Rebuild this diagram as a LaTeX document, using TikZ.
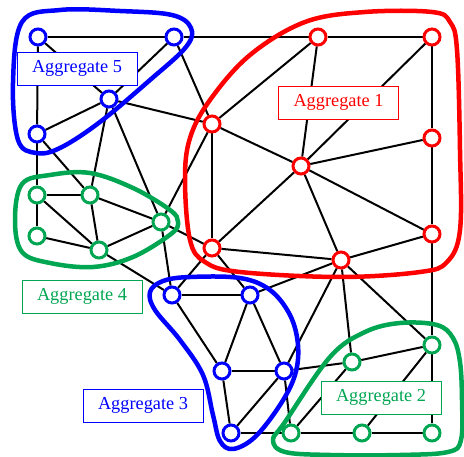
\documentclass[tikz,border=0pt]{standalone}
\usepackage{fontspec}
\setmainfont{Liberation Serif}
\definecolor{aggblue}{RGB}{0,0,255}
\definecolor{aggred}{RGB}{255,0,0}
\definecolor{agggreen}{RGB}{0,166,81}
\pgfdeclarelayer{edgelayer}
\pgfdeclarelayer{hulllayer}
\pgfsetlayers{edgelayer,hulllayer,main}
\tikzset{
  vtx/.style={circle,draw=#1,fill=white,line width=3pt,minimum size=16pt,inner sep=0pt},
  link/.style={draw=black,line width=2pt},
  hull/.style={draw=#1,line width=4.5pt,line join=round},
  agglabel/.style={draw=#1,text=#1,fill=white,line width=0.9pt,minimum width=120pt,minimum height=33pt,inner sep=0pt,font=\fontsize{18.3}{20}\selectfont}
}
\begin{document}
\begin{tikzpicture}[x=1pt,y=-1pt]
\useasboundingbox (0,0) rectangle (464,457);
% Aggregate 5
\node[vtx=aggblue] (a5a) at (38,37) {};
\node[vtx=aggblue] (a5b) at (174,37) {};
\node[vtx=aggblue] (a5c) at (109,99) {};
\node[vtx=aggblue] (a5d) at (37,134) {};
% Aggregate 1
\node[vtx=aggred] (r1) at (318,37) {};
\node[vtx=aggred] (r2) at (432,37) {};
\node[vtx=aggred] (r3) at (212,124) {};
\node[vtx=aggred] (r4) at (301,166) {};
\node[vtx=aggred] (r5) at (432,138) {};
\node[vtx=aggred] (r6) at (212,248) {};
\node[vtx=aggred] (r7) at (341,260) {};
\node[vtx=aggred] (r8) at (432,234) {};
% Aggregate 4
\node[vtx=agggreen] (g4a) at (37,195) {};
\node[vtx=agggreen] (g4b) at (90,195) {};
\node[vtx=agggreen] (g4c) at (161,222) {};
\node[vtx=agggreen] (g4d) at (37,236) {};
\node[vtx=agggreen] (g4e) at (99,250) {};
% Aggregate 3
\node[vtx=aggblue] (b3a) at (172,295) {};
\node[vtx=aggblue] (b3b) at (250,295) {};
\node[vtx=aggblue] (b3c) at (222,371) {};
\node[vtx=aggblue] (b3d) at (284,371) {};
\node[vtx=aggblue] (b3e) at (231,433) {};
% Aggregate 2
\node[vtx=agggreen] (g2a) at (432,345) {};
\node[vtx=agggreen] (g2b) at (352,362) {};
\node[vtx=agggreen] (g2c) at (291,433) {};
\node[vtx=agggreen] (g2d) at (362,433) {};
\node[vtx=agggreen] (g2e) at (432,433) {};

\begin{pgfonlayer}{edgelayer}
\foreach \p/\q in {a5a/a5b,a5b/r1,r1/r2,r2/r5,r5/r8,r8/g2a,g2a/g2e,g2e/g2d,g2d/g2c,g2c/b3e,
  a5a/a5d,a5d/g4a,g4a/g4d,
  a5a/a5c,a5b/a5c,a5c/a5d,a5b/r3,a5c/r3,a5c/g4b,a5c/g4c,a5d/g4b,
  g4a/g4b,g4a/g4e,g4b/g4c,g4b/g4e,g4d/g4e,g4e/g4c,g4c/r3,g4c/r6,g4c/b3a,g4e/b3a,
  r3/r1,r3/r4,r3/r6,r4/r1,r4/r2,r4/r5,r4/r6,r4/r7,r4/r8,r6/r7,r7/r8,
  r6/b3a,r6/b3b,b3a/b3b,b3b/r7,r7/b3d,r7/g2b,r7/g2a,
  b3a/b3c,b3b/b3c,b3b/b3d,b3c/b3d,b3c/b3e,b3d/b3e,b3d/g2c,b3d/g2b,
  g2b/g2a,g2a/g2d,g2b/g2c}
  \draw[link] (\p) -- (\q);
\end{pgfonlayer}

\begin{pgfonlayer}{hulllayer}
% Aggregate 5 hull
\draw[hull=aggblue] plot[smooth cycle,tension=0.6] coordinates {
  (22,22) (60,10) (120,11) (172,15) (191,28) (186,47) (150,80) (100,122) (60,148) (36,153) (18,140) (13,83)};
% Aggregate 1 hull
\draw[hull=aggred] plot[smooth cycle,tension=0.6] coordinates {
  (250,55) (305,22) (365,12) (432,12) (450,22) (457,50) (460,150) (460,230) (447,262) (420,272) (340,277) (240,272) (205,262) (190,240) (185,180) (190,138) (210,100)};
% Aggregate 4 hull
\draw[hull=agggreen] plot[smooth cycle,tension=0.6] coordinates {
  (22,184) (50,175) (90,173) (133,188) (170,210) (178,222) (171,234) (133,257) (93,267) (50,263) (22,252) (15,220)};
% Aggregate 3 hull
\draw[hull=aggblue] plot[smooth cycle,tension=0.6] coordinates {
  (150,292) (163,281) (190,277) (240,278) (270,290) (290,315) (298,345) (295,375) (280,405) (255,437) (233,449) (220,441) (213,415) (203,375) (180,340) (155,310)};
% Aggregate 2 hull
\draw[hull=agggreen] plot[smooth cycle,tension=0.6] coordinates {
  (273,440) (285,422) (330,357) (365,332) (400,323) (437,325) (453,338) (460,362) (462,400) (461,440) (448,452) (400,455) (330,455) (285,452)};
\end{pgfonlayer}

\node[agglabel=aggblue] (l5) at (77,68.5) {Aggregate 5};
\node[agglabel=aggred] (l1) at (338.5,102.5) {Aggregate 1};
\node[agglabel=agggreen] (l4) at (82,296.5) {Aggregate 4};
\node[agglabel=aggblue] (l3) at (143,405.5) {Aggregate 3};
\node[agglabel=agggreen] (l2) at (381,397.5) {Aggregate 2};
\end{tikzpicture}
\end{document}
